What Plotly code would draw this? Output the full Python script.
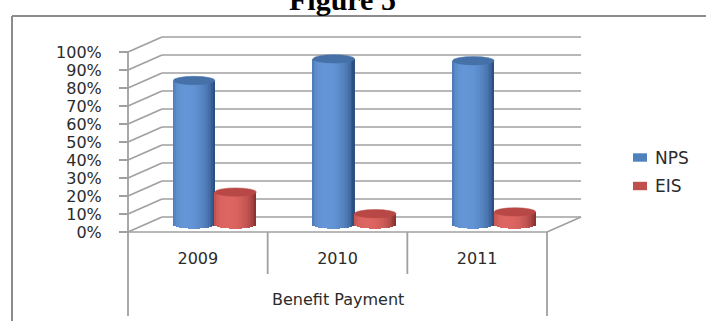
import numpy as np
import plotly.graph_objects as go

# ---- data -------------------------------------------------------------
years = ["2009", "2010", "2011"]
series_names = ["NPS", "EIS"]
nps_share = [80, 92, 91]
eis_share = [18, 6, 7]
y_ticks = list(range(0, 101, 10))
y_tick_text = [f"{v}%" for v in y_ticks]
chart_title = "Figure 5"
axis_title = "Benefit Payment"

# ---- page geometry ------------------------------------------------------
W, H = 706, 321
ORIGIN_X, ORIGIN_Y = 128, 232          # front-left corner of the floor (px)
PX_PER_CAT = 139.67                    # width of one category (px)
PX_PER_PCT = 1.8                       # height of 1 % (px)
DEPTH_X_PX, DEPTH_Y_PX = 34, 15        # perspective offset of the back wall
BAR_PX = 41.5                          # cylinder diameter (px)
CAP_PX = 4.2                           # half height of a cylinder cap (px)

x_range = [-ORIGIN_X / PX_PER_CAT, (W - ORIGIN_X) / PX_PER_CAT]
y_range = [(ORIGIN_Y - H) / PX_PER_PCT, ORIGIN_Y / PX_PER_PCT]
DX = DEPTH_X_PX / PX_PER_CAT
DY = DEPTH_Y_PX / PX_PER_PCT
BW = BAR_PX / PX_PER_CAT
CAP = CAP_PX / PX_PER_PCT
N_CAT = len(years)
LOWER_AXIS = (ORIGIN_Y - 316) / PX_PER_PCT
MID_AXIS = (ORIGIN_Y - 274) / PX_PER_PCT

GRID = "#A0A0A0"
TEXT = "#2b2b2b"
FONT = "DejaVu Sans"

palettes = {
    "NPS": dict(dark=(44, 80, 130), light=(100, 150, 215), cap="#4570A8", key="#4F81BD"),
    "EIS": dict(dark=(140, 50, 48), light=(222, 102, 98), cap="#B84845", key="#C0504D"),
}


def shade(pal, u):
    theta = np.arcsin(np.clip(u, -1, 1))
    k = max(0.0, np.cos(theta + 0.35)) ** 0.8
    d, l = pal["dark"], pal["light"]
    c = [int(round(d[i] + (l[i] - d[i]) * k)) for i in range(3)]
    return f"rgb({c[0]},{c[1]},{c[2]})"


fig = go.Figure()
shapes = []

# ---- cylinders: each body is a stack of thin shaded bar slices -----------
N_SLICE = 28
sw = BW / N_SLICE
for s, (name, vals) in enumerate(zip(series_names, [nps_share, eis_share])):
    pal = palettes[name]
    lefts = [i + 0.5 + DX / 2 - BW + s * BW for i in range(N_CAT)]
    for j in range(N_SLICE):
        u = -1 + (2 * j + 1) / N_SLICE
        curve = CAP * np.sqrt(max(0.0, 1 - u * u))
        fig.add_trace(go.Bar(
            x=[lx + (j + 0.5) * sw for lx in lefts],
            y=[v + curve for v in vals],
            base=[DY / 2 - curve] * N_CAT,
            width=sw * 1.08,
            marker=dict(color=shade(pal, u), line=dict(width=0)),
            showlegend=False, hoverinfo="skip", name=name,
        ))
    # flat top cap of each cylinder
    for lx, v in zip(lefts, vals):
        top = v + DY / 2
        shapes.append(dict(type="circle", xref="x", yref="y",
                           x0=lx, x1=lx + BW, y0=top - CAP, y1=top + CAP,
                           fillcolor=pal["cap"], line=dict(color=pal["cap"], width=0.5),
                           layer="above"))

# ---- walls and floor -------------------------------------------------
for v in y_ticks:
    shapes.append(dict(type="line", xref="x", yref="y", x0=DX, x1=N_CAT + DX,
                       y0=v + DY, y1=v + DY, line=dict(color=GRID, width=1.7), layer="below"))
    shapes.append(dict(type="line", xref="x", yref="y", x0=0, x1=DX,
                       y0=v, y1=v + DY, line=dict(color=GRID, width=1.7), layer="below"))
shapes += [
    dict(type="line", xref="x", yref="y", x0=0, x1=N_CAT, y0=0, y1=0,
         line=dict(color=GRID, width=1.7), layer="below"),
    dict(type="line", xref="x", yref="y", x0=N_CAT, x1=N_CAT + DX, y0=0, y1=DY,
         line=dict(color=GRID, width=1.7), layer="below"),
    dict(type="line", xref="x", yref="y", x0=0, x1=0, y0=y_ticks[-1], y1=LOWER_AXIS,
         line=dict(color=GRID, width=1.8), layer="below"),
    dict(type="line", xref="x", yref="y", x0=N_CAT, x1=N_CAT, y0=0, y1=LOWER_AXIS,
         line=dict(color=GRID, width=1.8), layer="below"),
]
for k in range(1, N_CAT):
    shapes.append(dict(type="line", xref="x", yref="y", x0=k, x1=k, y0=0, y1=MID_AXIS,
                       line=dict(color=GRID, width=1.8), layer="below"))

# ---- outer chart border --------------------------------------------
FR_X, FR_Y = 12 / W, 1 - 16 / H
shapes += [
    dict(type="line", xref="paper", yref="paper", x0=FR_X, x1=1, y0=FR_Y, y1=FR_Y,
         line=dict(color="#8C8C8C", width=2)),
    dict(type="line", xref="paper", yref="paper", x0=FR_X, x1=FR_X, y0=FR_Y, y1=0,
         line=dict(color="#8C8C8C", width=2)),
]

# ---- legend keys -------------------------------------------------------
annotations = []
for k, name in enumerate(series_names):
    cy = 157.5 + k * 28.5
    shapes.append(dict(type="rect", xref="paper", yref="paper",
                       x0=633 / W, x1=647 / W, y0=1 - (cy + 4.2) / H, y1=1 - (cy - 4.2) / H,
                       fillcolor=palettes[name]["key"], line=dict(width=0)))
    annotations.append(dict(text=name, xref="paper", yref="paper", x=653 / W, y=1 - cy / H,
                            xanchor="left", yanchor="middle", showarrow=False,
                            font=dict(family=FONT, size=17, color=TEXT)))

annotations += [
    dict(text=axis_title, xref="x", yref="y", x=N_CAT / 2, y=(ORIGIN_Y - 299) / PX_PER_PCT,
         xanchor="center", yanchor="middle", showarrow=False,
         font=dict(family=FONT, size=16, color=TEXT)),
    dict(text=f"<b>{chart_title}</b>", xref="paper", yref="paper", x=342 / W, y=1 - 18 / H,
         xanchor="center", yanchor="bottom", showarrow=False,
         font=dict(family="Liberation Serif", size=30, color="black")),
]

fig.update_layout(
    width=W, height=H, margin=dict(l=0, r=0, t=0, b=0, pad=0),
    paper_bgcolor="white", plot_bgcolor="white",
    barmode="overlay", bargap=0, showlegend=False, hovermode=False,
    shapes=shapes, annotations=annotations,
    xaxis=dict(range=x_range, domain=[0, 1], anchor="free", position=(H - ORIGIN_Y) / H,
               showgrid=False, zeroline=False, showline=False, ticks="",
               tickvals=[i + 0.5 for i in range(N_CAT)], ticktext=years,
               tickfont=dict(family=FONT, size=16, color=TEXT), ticklabelstandoff=15,
               fixedrange=True),
    yaxis=dict(range=y_range, domain=[0, 1], anchor="free", position=ORIGIN_X / W,
               showgrid=False, zeroline=False, showline=False,
               ticks="outside", ticklen=9, tickwidth=1.6, tickcolor=GRID,
               tickvals=y_ticks, ticktext=y_tick_text,
               tickfont=dict(family=FONT, size=16, color=TEXT), ticklabelstandoff=14,
               fixedrange=True),
)

fig.write_html("out.html")
